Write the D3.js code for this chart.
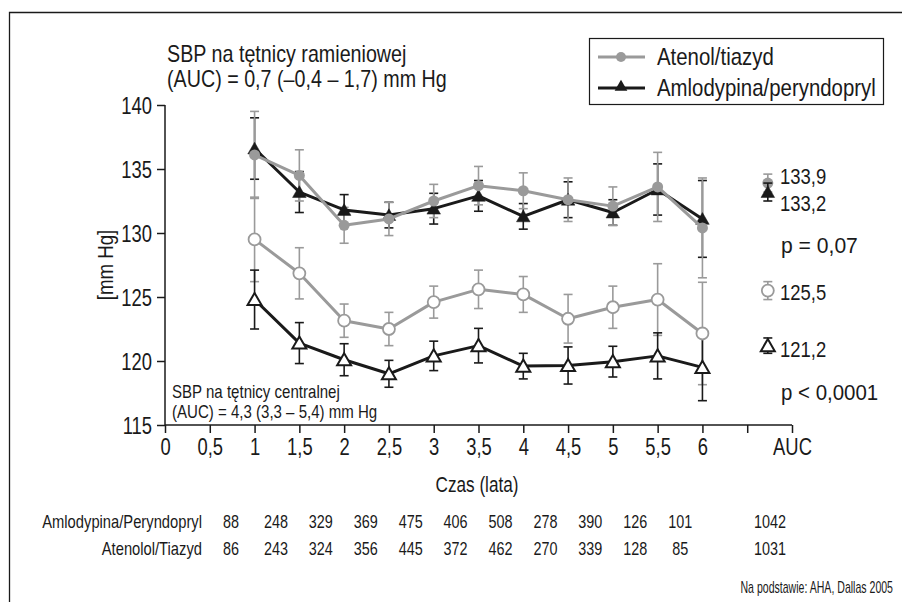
<!DOCTYPE html>
<html><head><meta charset="utf-8">
<script src="https://cdn.jsdelivr.net/npm/d3@7"></script>
<style>
body{margin:0;background:#fff;}
text{font-family:"Liberation Sans",Arial,sans-serif;fill:#1a1a1a;}
</style></head>
<body><svg id="c" width="902" height="602"></svg>
<script>
// ---- data ----
const times = [1,1.5,2,2.5,3,3.5,4,4.5,5,5.5,6];
const atenBrach    = [136.1,134.5,130.6,131.1,132.5,133.7,133.3,132.6,132.1,133.6,130.4];
const atenBrachErr = [3.4,2.0,1.4,1.3,1.3,1.5,1.4,1.7,1.5,2.7,3.9];
const amloBrach    = [136.6,133.2,131.8,131.4,131.9,132.9,131.3,132.6,131.6,133.4,131.1];
const amloBrachErr = [2.4,1.6,1.2,1.0,1.2,1.2,1.0,1.4,1.0,2.0,3.0];
const atenCent     = [129.5,126.85,123.15,122.5,124.6,125.6,125.2,123.3,124.2,124.8,122.15];
const atenCentErr  = [3.3,2.0,1.3,1.3,1.25,1.5,1.4,1.9,1.65,2.8,4.0];
const amloCent     = [124.8,121.4,120.1,119.0,120.4,121.2,119.6,119.65,119.95,120.4,119.5];
const amloCentErr  = [2.3,1.6,1.25,1.05,1.15,1.35,1.0,1.45,1.2,1.8,2.6];
const aucX = 6.73;
const aucVals = {atenBrach:133.9, amloBrach:133.2, atenCent:125.5, amloCent:121.2};
const aucErr  = {atenBrach:0.7, amloBrach:0.7, atenCent:0.7, amloCent:0.6};
const aucLabels = ["133,9","133,2","125,5","121,2"];
const pLabels = ["p = 0,07","p < 0,0001"];
const xTicks = [0,0.5,1,1.5,2,2.5,3,3.5,4,4.5,5,5.5,6,6.5,7];
const xTickLabels = ["0","0,5","1","1,5","2","2,5","3","3,5","4","4,5","5","5,5","6","","AUC"];
const yTicks = [115,120,125,130,135,140];
const seriesNames = ["Atenol/tiazyd","Amlodypina/peryndopryl"];
const tableRows = ["Amlodypina/Peryndopryl","Atenolol/Tiazyd"];
const amloCounts = [88,248,329,369,475,406,508,278,390,126,101];
const atenCounts = [86,243,324,356,445,372,462,270,339,128,85];
const aucCounts = [1042,1031];

const GRAY="#9a9a9a", BLACK="#1a1a1a";
const svg = d3.select("#c");
const x = d3.scaleLinear().domain([0,7]).range([165,792]);
const y = d3.scaleLinear().domain([115,140]).range([425,105]);

// condensed text helper (Arial metrics squeezed horizontally)
function T(parent, px, py, str, size, anchor, sx){
  return parent.append("text")
    .attr("transform",`translate(${px},${py}) scale(${sx||0.82},1)`)
    .attr("font-size",size).attr("text-anchor",anchor||"start").text(str);
}

// frame
svg.append("path").attr("d","M9.5,602 V12.5 H902").attr("fill","none").attr("stroke",BLACK).attr("stroke-width",1.3);

// axes
const SX = 0.8;
const yAxis = svg.append("g").attr("transform","translate(165,0)")
  .call(d3.axisLeft(y).tickValues(yTicks).tickSize(8).tickPadding(6).tickFormat(d3.format("d")));
const xAxis = svg.append("g").attr("transform","translate(0,425)")
  .call(d3.axisBottom(x).tickValues(xTicks).tickSize(8).tickPadding(8).tickFormat((d,i)=>xTickLabels[i]));
[yAxis,xAxis].forEach(g=>{
  g.select(".domain").attr("stroke",BLACK).attr("stroke-width",1.5).attr("d", g===yAxis?"M0,105V425":"M165,0H792");
  g.selectAll(".tick line").attr("stroke",BLACK).attr("stroke-width",1.5);
  g.selectAll(".tick text").attr("font-size",23).attr("fill",BLACK).style("font-family",null)
    .attr("transform",`scale(${SX},1)`);
});
yAxis.selectAll(".tick text").attr("x",-13/SX).attr("dy","0.36em");
xAxis.selectAll(".tick text").attr("y",13).attr("dy","0.72em");
T(svg,477,492,"Czas (lata)",22,"middle",0.78);
svg.append("text").attr("transform","translate(113,265) rotate(-90) scale(0.85,1)").attr("text-anchor","middle").attr("font-size",22).text("[mm Hg]");

// series drawing
function errBars(vals, errs, xs, color){
  const g = svg.append("g").attr("stroke",color).attr("stroke-width",1.6);
  vals.forEach((v,i)=>{
    const cx = x(xs[i]), t = y(v+errs[i]), b = y(v-errs[i]);
    g.append("line").attr("x1",cx).attr("x2",cx).attr("y1",t).attr("y2",b);
    g.append("line").attr("x1",cx-4.5).attr("x2",cx+4.5).attr("y1",t).attr("y2",t);
    g.append("line").attr("x1",cx-4.5).attr("x2",cx+4.5).attr("y1",b).attr("y2",b);
  });
}
function line(vals, color){
  svg.append("path").datum(vals).attr("fill","none").attr("stroke",color).attr("stroke-width",3)
    .attr("stroke-linejoin","round")
    .attr("d", d3.line().x((d,i)=>x(times[i])).y(d=>y(d)));
}
const tri = d3.symbol().type(d3.symbolTriangle);
function circles(vals, xs, open){
  vals.forEach((v,i)=>{
    svg.append("circle").attr("cx",x(xs[i])).attr("cy",y(v)).attr("r",open?6:5.5)
      .attr("fill",open?"#fff":GRAY).attr("stroke",GRAY).attr("stroke-width",open?1.8:0);
  });
}
function triangles(vals, xs, open){
  vals.forEach((v,i)=>{
    svg.append("path").attr("d",tri.size(open?85:80)()).attr("transform",`translate(${x(xs[i])},${y(v)+1.5})`)
      .attr("fill",open?"#fff":BLACK).attr("stroke",BLACK).attr("stroke-width",open?2:0.5);
  });
}

// central (lower)
errBars(atenCent, atenCentErr, times, GRAY);
errBars(amloCent, amloCentErr, times, BLACK);
line(atenCent, GRAY);
line(amloCent, BLACK);
circles(atenCent, times, true);
triangles(amloCent, times, true);
// brachial (upper)
errBars(amloBrach, amloBrachErr, times, BLACK);
errBars(atenBrach, atenBrachErr, times, GRAY);
line(amloBrach, BLACK);
triangles(amloBrach, times, false);
line(atenBrach, GRAY);
circles(atenBrach, times, false);

// AUC markers
errBars([aucVals.atenBrach],[aucErr.atenBrach],[aucX],GRAY);
circles([aucVals.atenBrach],[aucX],false);
errBars([aucVals.amloBrach],[aucErr.amloBrach],[aucX],BLACK);
triangles([aucVals.amloBrach],[aucX],false);
errBars([aucVals.atenCent],[aucErr.atenCent],[aucX],GRAY);
circles([aucVals.atenCent],[aucX],true);
errBars([aucVals.amloCent],[aucErr.amloCent],[aucX],BLACK);
triangles([aucVals.amloCent],[aucX],true);

const aucTextVals = [aucVals.atenBrach, aucVals.amloBrach, aucVals.atenCent, aucVals.amloCent];
const aucDy = [1, 19, 9.5, 11];
aucLabels.forEach((t,i)=>T(svg,780,y(aucTextVals[i])+aucDy[i],t,22,"start",0.84));
T(svg,781,253,pLabels[0],22,"start",0.96);
T(svg,781,400,pLabels[1],22,"start",0.93);

// annotations
T(svg,167,62,"SBP na tętnicy ramieniowej",23,"start",0.857);
T(svg,167,87,"(AUC) = 0,7 (–0,4 – 1,7) mm Hg",23,"start",0.857);
T(svg,172,398,"SBP na tętnicy centralnej",17.5,"start",0.86);
T(svg,172,418,"(AUC) = 4,3 (3,3 – 5,4) mm Hg",17.5,"start",0.86);

// legend
const lg = svg.append("g");
lg.append("rect").attr("x",589.5).attr("y",38.5).attr("width",294).attr("height",66).attr("fill","#fff").attr("stroke",BLACK).attr("stroke-width",1.2);
lg.append("line").attr("x1",598).attr("x2",645).attr("y1",57).attr("y2",57).attr("stroke",GRAY).attr("stroke-width",3);
lg.append("circle").attr("cx",621).attr("cy",57).attr("r",5).attr("fill",GRAY);
lg.append("line").attr("x1",598).attr("x2",645).attr("y1",88).attr("y2",88).attr("stroke",BLACK).attr("stroke-width",3);
lg.append("path").attr("d",tri.size(70)()).attr("transform","translate(621,87)").attr("fill",BLACK);
T(lg,657,65,seriesNames[0],24,"start",0.85);
T(lg,657,96,seriesNames[1],24,"start",0.85);

// table
const col = d3.scaleLinear().domain([0,12]).range([231,770]);
[amloCounts, atenCounts].forEach((row,r)=>{
  const yy = r===0?528:555;
  T(svg,202,yy,tableRows[r],18,"end",0.82);
  row.forEach((v,i)=>T(svg,col(i),yy,v,18,"middle",0.8));
  T(svg,col(12),yy,aucCounts[r],18,"middle",0.8);
});
T(svg,893,593,"Na podstawie: AHA, Dallas 2005",16,"end",0.66);
</script></body></html>
